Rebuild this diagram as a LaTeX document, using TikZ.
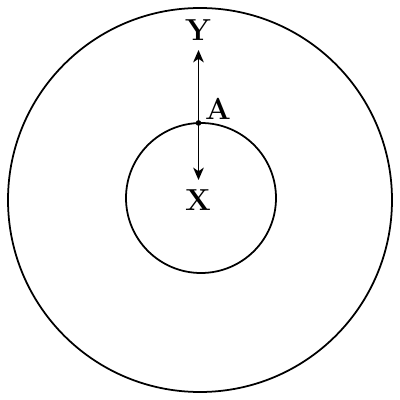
\documentclass[tikz,border=0pt]{standalone}
\usetikzlibrary{arrows.meta}
\begin{document}
\begin{tikzpicture}[>={Stealth[length=7pt,width=6pt,inset=2pt]},line join=round, line cap=round, line width=1pt, font=\LARGE\bfseries]
	\useasboundingbox (-4,-4) rectangle (4,4);
	\def \R{3.84}\def \r{1.5}
	\coordinate (O) at (0,0);
	\coordinate (C) at (0.02,0.04);
	\draw (O) circle(\R);
	\draw (C) circle(\r);
	\coordinate (A) at (-0.03,1.54);
	\coordinate (top) at (-0.03,3.0);
	\coordinate (bot) at (-0.03,0.4);
	\fill (A) circle(1.6pt);
	\draw[->] (A)--(top);
	\draw[->] (A)--(bot);
	\node (Y) at (-0.04,3.4) {Y};
	\node (X) at (-0.04,0) {X};
	\node (lblA) at (0.36,1.82) {A};
\end{tikzpicture}
\end{document}
